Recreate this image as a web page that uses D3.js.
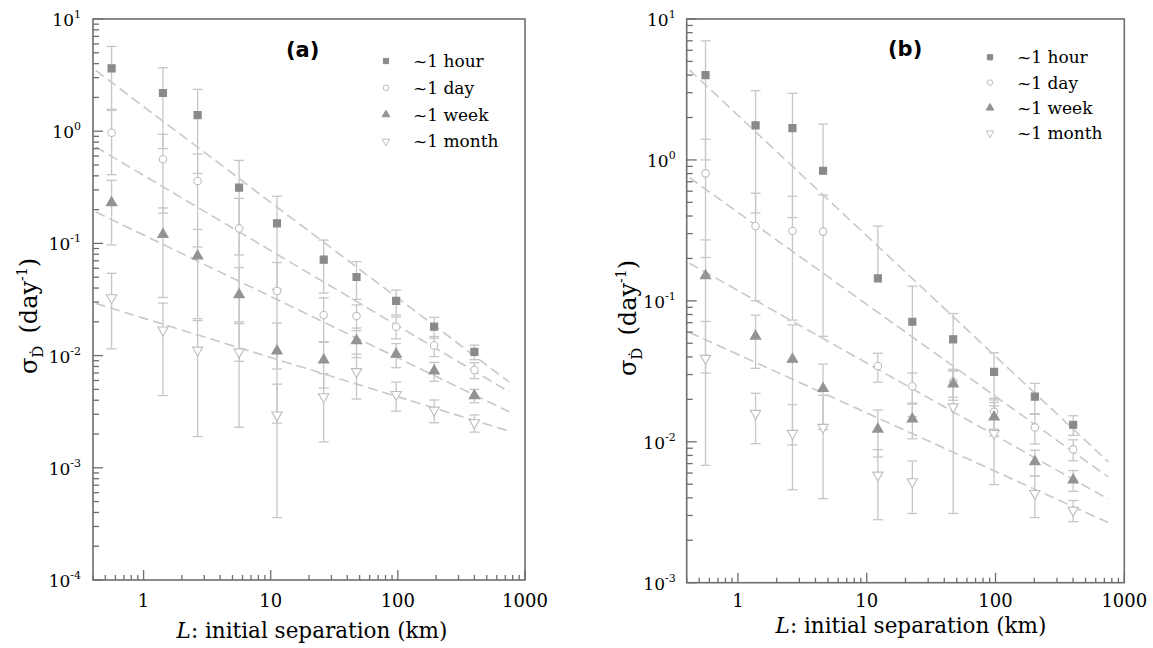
<!DOCTYPE html>
<html><head><meta charset="utf-8">
<script src="https://cdn.jsdelivr.net/npm/d3@7"></script>
<style>body{margin:0;background:#fff}svg{display:block}</style>
</head><body>
<svg id="c" width="1153" height="648"></svg>
<script>
// ---------- data ----------
const seriesNames = ["~1 hour", "~1 day", "~1 week", "~1 month"];
const xTickLabels = ["1", "10", "100", "1000"];
const xFit = [0.42, 750];

// panel (a)
const xA = [0.56, 1.42, 2.66, 5.64, 11.2, 26.1, 47.3, 97, 193, 400];
const hourA = [3.63, 2.19, 1.39, 0.314, 0.151, 0.0716, 0.0502, 0.0307, 0.0181, 0.0108];
const dayA = [0.97, 0.562, 0.36, 0.136, 0.0376, 0.023, 0.0225, 0.0181, 0.0123, 0.00744];
const weekA = [0.231, 0.12, 0.0773, 0.0349, 0.011, 0.00914, 0.0136, 0.0103, 0.0073, 0.0044];
const monthA = [0.0328, 0.0169, 0.0112, 0.0108, 0.00296, 0.0043, 0.0072, 0.0045, 0.00327, 0.00252];
const errHourA = [2.06, 1.49, 0.97, 0.235, 0.112, 0.0355, 0.0185, 0.0077, 0.0038, 0.0016];
const errDayA = [0.56, 0.376, 0.267, 0.116, 0.03, 0.0097, 0.0058, 0.004, 0.0025, 0.0012];
const errWeekA = [0.134, 0.087, 0.056, 0.026, 0.0085, 0.004, 0.004, 0.0025, 0.0014, 0.0006];
const errMonthA = [0.0213, 0.0125, 0.0093, 0.0085, 0.0026, 0.0026, 0.0031, 0.0013, 0.00075, 0.00044];
const fitHourA = [3.48, 0.00582];
const fitDayA = [0.724, 0.00476];
const fitWeekA = [0.191, 0.00316];
const fitMonthA = [0.0292, 0.00212];
const yTicksA = [1, 0, -1, -2, -3, -4];

// panel (b)
const xB = [0.56, 1.37, 2.65, 4.58, 12.2, 22.6, 46.9, 97.5, 202, 401];
const hourB = [4.0, 1.76, 1.68, 0.838, 0.1445, 0.0711, 0.0533, 0.0313, 0.0209, 0.0132];
const dayB = [0.803, 0.34, 0.313, 0.31, 0.0345, 0.0248, 0.0267, 0.0163, 0.01265, 0.00883];
const weekB = [0.1507, 0.0562, 0.0385, 0.0239, 0.0123, 0.0145, 0.0257, 0.015, 0.00721, 0.00535];
const monthB = [0.0391, 0.0159, 0.01147, 0.01265, 0.0058, 0.0052, 0.0177, 0.01147, 0.0043, 0.00327];
const errHourB = [3.0, 1.34, 1.29, 0.96, 0.195, 0.056, 0.028, 0.0115, 0.0051, 0.0021];
const errDayB = [0.6, 0.24, 0.24, 0.254, 0.008, 0.006, 0.006, 0.004, 0.003, 0.0015];
const errWeekB = [0.12, 0.023, 0.029, 0.0117, 0.0045, 0.004, 0.006, 0.004, 0.0015, 0.0009];
const errMonthB = [0.0323, 0.0062, 0.0069, 0.0087, 0.003, 0.0021, 0.0146, 0.0065, 0.0014, 0.00056];
const fitHourB = [4.35, 0.00721];
const fitDayB = [0.748, 0.00563];
const fitWeekB = [0.185, 0.00392];
const fitMonthB = [0.0597, 0.00267];
const yTicksB = [1, 0, -1, -2, -3];

// ---------- drawing ----------
const svg = d3.select("#c");
const SERIF = "DejaVu Serif, Liberation Serif, serif";

const markerStyles = [
  {sym: d3.symbolSquare, size: 50, rot: 0, fill: "#8a8a8a", stroke: "#8a8a8a"},
  {sym: d3.symbolCircle, size: 44, rot: 0, fill: "#fff", stroke: "#bdbdbd"},
  {sym: d3.symbolTriangle, size: 46, rot: 0, fill: "#939393", stroke: "#939393"},
  {sym: d3.symbolTriangle, size: 46, rot: 180, fill: "#fff", stroke: "#bdbdbd"}
];

function drawPanel(p) {
  const x = d3.scaleLog().domain([0.4, 1000]).range([p.left, p.right]);
  const y = d3.scaleLog().domain(p.yDomain).range([p.bottom, p.top]);
  const g = svg.append("g");

  // error bars
  const eb = g.append("g").attr("stroke", "#c6c6c6").attr("stroke-width", 1.3).attr("fill", "none");
  p.series.forEach((s) => {
    s.vals.forEach((v, i) => {
      const e = s.errs[i];
      const up = v + e;
      const lo = v - e;
      const cx = x(p.xs[i]);
      const yUp = y(up);
      const yLo = lo > 0 ? y(lo) : y(v);
      eb.append("line").attr("x1", cx).attr("x2", cx).attr("y1", yUp).attr("y2", yLo);
      eb.append("line").attr("x1", cx - 5).attr("x2", cx + 5).attr("y1", yUp).attr("y2", yUp);
      if (lo > 0) eb.append("line").attr("x1", cx - 5).attr("x2", cx + 5).attr("y1", yLo).attr("y2", yLo);
    });
  });

  // fit lines
  const line = d3.line().x(d => x(d[0])).y(d => y(d[1]));
  p.series.forEach(s => {
    g.append("path").attr("d", line(xFit.map((xv, k) => [xv, s.fit[k]])))
      .attr("fill", "none").attr("stroke", "#c8c8c8").attr("stroke-width", 1.6)
      .attr("stroke-dasharray", "10,5");
  });

  // markers
  p.series.forEach((s, si) => {
    const st = markerStyles[si];
    const sym = d3.symbol().type(st.sym).size(st.size);
    g.append("g").selectAll("path").data(s.vals).join("path")
      .attr("d", sym)
      .attr("transform", (d, i) => `translate(${x(p.xs[i])},${y(d)}) rotate(${st.rot})`)
      .attr("fill", st.fill).attr("stroke", st.stroke).attr("stroke-width", 1.1);
  });

  // frame
  g.append("rect").attr("x", p.left).attr("y", p.top)
    .attr("width", p.right - p.left).attr("height", p.bottom - p.top)
    .attr("fill", "none").attr("stroke", "#6e6e6e").attr("stroke-width", 1.6);

  // ticks (inward)
  const isMajor = v => Math.abs(Math.log10(v) - Math.round(Math.log10(v))) < 1e-6;
  y.ticks().forEach(t => {
    const yy = y(t);
    if (yy < p.top - 0.5 || yy > p.bottom + 0.5) return;
    const len = isMajor(t) ? 10 : 6;
    g.append("line").attr("x1", p.left).attr("x2", p.left + len).attr("y1", yy).attr("y2", yy)
      .attr("stroke", "#6e6e6e").attr("stroke-width", 1.3);
  });
  x.ticks().forEach(t => {
    const xx = x(t);
    if (xx < p.left - 0.5 || xx > p.right + 0.5) return;
    const len = isMajor(t) ? 10 : 5;
    g.append("line").attr("x1", xx).attr("x2", xx).attr("y1", p.bottom).attr("y2", p.bottom - len)
      .attr("stroke", "#6e6e6e").attr("stroke-width", 1.3);
  });

  // texts
  p.yTicks.forEach(ex => {
    const t = svg.append("text").attr("x", p.left - p.labelGap).attr("y", y(Math.pow(10, ex)) + 7)
      .attr("font-family", SERIF).attr("font-size", 17)
      .attr("text-anchor", "end");
    t.append("tspan").text("10");
    t.append("tspan").attr("font-size", 11).attr("dy", -8).text(String(ex));
  });
  xTickLabels.forEach(lbl => {
    svg.append("text").attr("x", x(+lbl)).attr("y", 607)
      .attr("font-family", SERIF).attr("font-size", 18)
      .attr("text-anchor", "middle").text(lbl);
  });

  const xt = svg.append("text").attr("x", p.xTitleX).attr("y", p.xTitleY)
    .attr("font-family", SERIF).attr("font-size", 21.5)
    .attr("text-anchor", "middle");
  xt.append("tspan").attr("font-style", "italic").text("L");
  xt.append("tspan").text(": initial separation (km)");

  const yt = svg.append("text").attr("transform", `translate(${p.yTitleX},${p.yTitleY}) rotate(-90)`)
    .attr("font-family", SERIF).attr("font-size", 24)
    .attr("text-anchor", "middle");
  yt.append("tspan").text("σ");
  yt.append("tspan").attr("font-size", 15).attr("dy", 6).text("Ḋ");
  yt.append("tspan").attr("dy", -6).text("\u2002(day");
  yt.append("tspan").attr("font-size", 14).attr("dy", -10).text("-1");
  yt.append("tspan").attr("dy", 10).text(")");

  svg.append("text").attr("x", p.tagX).attr("y", p.tagY)
    .attr("font-family", "DejaVu Sans").attr("font-weight", "bold").attr("font-size", 21)
    .text(p.tag);

  seriesNames.forEach((name, si) => {
    const st = markerStyles[si];
    const ly = p.legY + si * p.legDy;
    g.append("path").attr("d", d3.symbol().type(st.sym).size(st.size * 0.55))
      .attr("transform", `translate(${p.legX},${ly}) rotate(${st.rot})`)
      .attr("fill", st.fill).attr("stroke", st.stroke).attr("stroke-width", 1);
    svg.append("text").attr("x", p.legX + 27).attr("y", ly + 6)
      .attr("font-family", SERIF).attr("font-size", 17).text(name);
  });
}

drawPanel({
  left: 93, right: 525, top: 19, bottom: 580, yDomain: [1e-4, 10], yTicks: yTicksA,
  xs: xA, labelGap: 12,
  series: [
    {vals: hourA, errs: errHourA, fit: fitHourA},
    {vals: dayA, errs: errDayA, fit: fitDayA},
    {vals: weekA, errs: errWeekA, fit: fitWeekA},
    {vals: monthA, errs: errMonthA, fit: fitMonthA}
  ],
  xTitleX: 312, xTitleY: 638, yTitleX: 37, yTitleY: 316,
  tag: "(a)", tagX: 286, tagY: 57, legX: 386, legY: 61, legDy: 26.8
});

drawPanel({
  left: 686.7, right: 1124.3, top: 19, bottom: 582.7, yDomain: [1e-3, 10], yTicks: yTicksB,
  xs: xB, labelGap: 11,
  series: [
    {vals: hourB, errs: errHourB, fit: fitHourB},
    {vals: dayB, errs: errDayB, fit: fitDayB},
    {vals: weekB, errs: errWeekB, fit: fitWeekB},
    {vals: monthB, errs: errMonthB, fit: fitMonthB}
  ],
  xTitleX: 911, xTitleY: 633, yTitleX: 636, yTitleY: 318,
  tag: "(b)", tagX: 888, tagY: 56, legX: 990, legY: 57.3, legDy: 25.3
});
</script>
</body></html>
